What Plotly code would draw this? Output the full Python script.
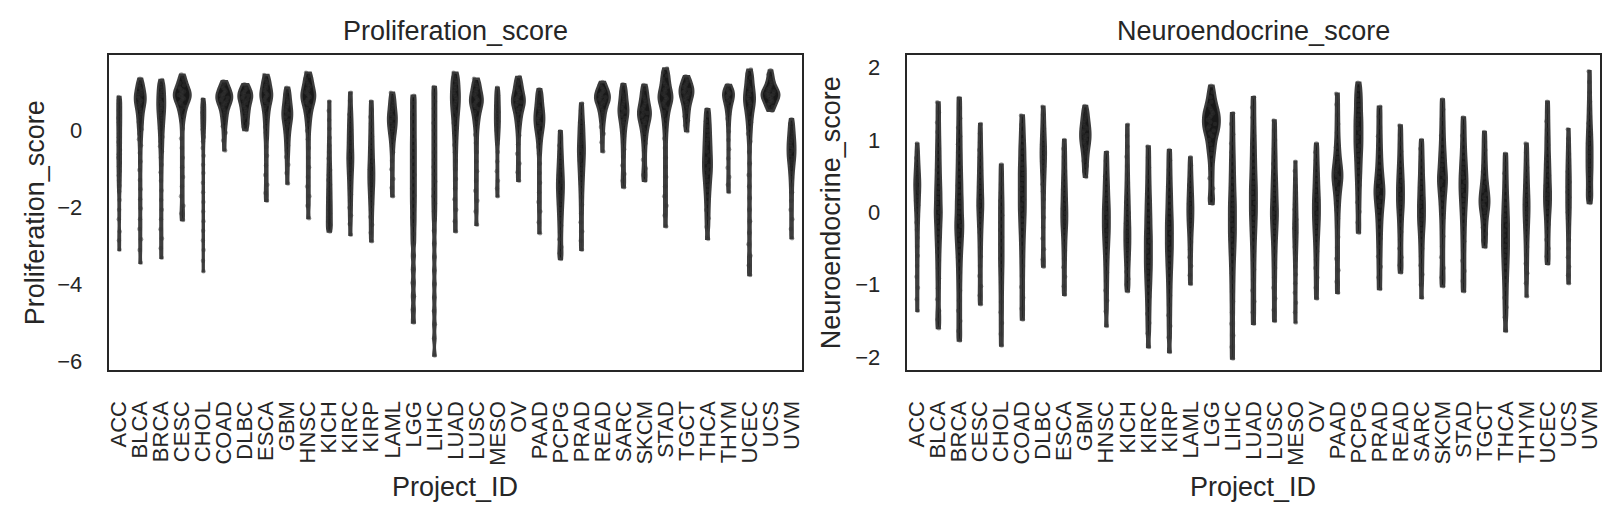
import plotly.graph_objects as go

projects = ["ACC", "BLCA", "BRCA", "CESC", "CHOL", "COAD", "DLBC", "ESCA", "GBM", "HNSC",
            "KICH", "KIRC", "KIRP", "LAML", "LGG", "LIHC", "LUAD", "LUSC", "MESO", "OV",
            "PAAD", "PCPG", "PRAD", "READ", "SARC", "SKCM", "STAD", "TGCT", "THCA", "THYM",
            "UCEC", "UCS", "UVM"]

prolif_values = [
    [0.88, 0.8, 0.71, 0.6, 0.52, 0.41, 0.33, 0.22, 0.14, 0.03, -0.08, -0.17, -0.29, -0.38, -0.5, -0.61, -0.7, -0.83, -0.92, -1.05, -1.16, -1.3, -1.43, -1.58, -1.8, -2.05, -2.3, -2.62, -2.85, -3.09],
    [1.35, 1.27, 1.2, 1.14, 1.08, 1.03, 0.98, 0.94, 0.9, 0.86, 0.82, 0.78, 0.74, 0.7, 0.65, 0.6, 0.54, 0.47, 0.4, 0.32, 0.23, 0.14, 0.04, -0.08, -0.22, -0.38, -0.58, -0.8, -1.02, -1.28, -1.52, -1.78, -2.02, -2.3, -2.55, -2.82, -3.1, -3.43],
    [1.32, 1.24, 1.17, 1.1, 1.03, 0.97, 0.91, 0.85, 0.79, 0.73, 0.68, 0.62, 0.56, 0.5, 0.44, 0.37, 0.3, 0.22, 0.14, 0.05, -0.05, -0.16, -0.28, -0.4, -0.54, -0.7, -0.88, -1.08, -1.3, -1.55, -1.8, -2.05, -2.3, -2.56, -2.8, -3.05, -3.3],
    [1.46, 1.38, 1.3, 1.24, 1.18, 1.13, 1.09, 1.05, 1.02, 0.99, 0.96, 0.93, 0.9, 0.87, 0.84, 0.81, 0.77, 0.73, 0.68, 0.62, 0.55, 0.47, 0.38, 0.25, 0.05, -0.2, -0.45, -0.7, -0.95, -1.2, -1.45, -1.7, -1.95, -2.15, -2.32],
    [0.82, 0.75, 0.68, 0.61, 0.54, 0.47, 0.4, 0.33, 0.26, 0.19, 0.11, 0.03, -0.06, -0.16, -0.28, -0.45, -0.65, -0.88, -1.1, -1.35, -1.6, -1.85, -2.1, -2.35, -2.6, -2.85, -3.1, -3.38, -3.65],
    [1.29, 1.22, 1.16, 1.11, 1.06, 1.02, 0.98, 0.95, 0.92, 0.89, 0.86, 0.83, 0.8, 0.77, 0.73, 0.69, 0.64, 0.58, 0.51, 0.43, 0.34, 0.24, 0.12, -0.05, -0.25, -0.51],
    [1.21, 1.15, 1.1, 1.05, 1.01, 0.97, 0.94, 0.91, 0.88, 0.85, 0.81, 0.77, 0.72, 0.67, 0.61, 0.55, 0.49, 0.42, 0.35, 0.27, 0.18, 0.1, 0.02],
    [1.45, 1.37, 1.3, 1.23, 1.17, 1.11, 1.06, 1.01, 0.97, 0.93, 0.89, 0.85, 0.8, 0.75, 0.69, 0.62, 0.54, 0.45, 0.35, 0.23, 0.1, -0.05, -0.2, -0.42, -0.65, -0.9, -1.15, -1.4, -1.62, -1.82],
    [1.12, 1.03, 0.94, 0.86, 0.78, 0.71, 0.65, 0.59, 0.53, 0.48, 0.43, 0.38, 0.33, 0.27, 0.21, 0.14, 0.06, -0.03, -0.13, -0.25, -0.38, -0.52, -0.68, -0.88, -1.1, -1.37],
    [1.51, 1.43, 1.35, 1.28, 1.21, 1.15, 1.1, 1.05, 1.0, 0.96, 0.92, 0.88, 0.84, 0.8, 0.75, 0.7, 0.64, 0.57, 0.49, 0.4, 0.29, 0.16, 0.0, -0.22, -0.45, -0.7, -0.95, -1.2, -1.45, -1.7, -1.95, -2.27],
    [0.76, 0.52, 0.28, 0.05, -0.18, -0.38, -0.55, -0.72, -0.88, -1.02, -1.15, -1.28, -1.4, -1.52, -1.63, -1.74, -1.85, -1.95, -2.05, -2.15, -2.25, -2.35, -2.45, -2.54, -2.62],
    [0.99, 0.78, 0.58, 0.42, 0.28, 0.15, 0.03, -0.09, -0.2, -0.31, -0.42, -0.52, -0.62, -0.71, -0.8, -0.9, -1.0, -1.11, -1.23, -1.36, -1.5, -1.65, -1.82, -2.0, -2.2, -2.42, -2.7],
    [0.76, 0.55, 0.36, 0.18, 0.02, -0.14, -0.28, -0.42, -0.55, -0.67, -0.79, -0.9, -1.0, -1.1, -1.2, -1.3, -1.4, -1.51, -1.63, -1.76, -1.9, -2.06, -2.24, -2.44, -2.65, -2.87],
    [0.99, 0.88, 0.78, 0.69, 0.61, 0.53, 0.46, 0.4, 0.34, 0.28, 0.22, 0.16, 0.09, 0.02, -0.06, -0.15, -0.26, -0.4, -0.56, -0.78, -1.0, -1.25, -1.48, -1.7],
    [0.91, 0.72, 0.52, 0.33, 0.14, -0.05, -0.24, -0.42, -0.6, -0.78, -0.96, -1.14, -1.32, -1.5, -1.68, -1.86, -2.05, -2.25, -2.45, -2.68, -2.92, -3.25, -3.6, -3.95, -4.3, -4.65, -4.98],
    [1.14, 0.96, 0.77, 0.58, 0.39, 0.2, 0.01, -0.18, -0.37, -0.56, -0.75, -0.94, -1.13, -1.32, -1.51, -1.7, -1.89, -2.09, -2.31, -2.6, -2.93, -3.28, -3.63, -3.98, -4.33, -4.68, -5.03, -5.4, -5.84],
    [1.51, 1.41, 1.32, 1.24, 1.16, 1.08, 1.01, 0.94, 0.87, 0.8, 0.73, 0.66, 0.58, 0.5, 0.41, 0.31, 0.2, 0.08, -0.05, -0.2, -0.37, -0.56, -0.78, -1.0, -1.25, -1.5, -1.78, -2.05, -2.35, -2.62],
    [1.35, 1.27, 1.19, 1.12, 1.05, 0.99, 0.94, 0.89, 0.84, 0.8, 0.76, 0.72, 0.67, 0.62, 0.56, 0.49, 0.41, 0.32, 0.21, 0.08, -0.1, -0.32, -0.55, -0.8, -1.05, -1.3, -1.56, -1.82, -2.1, -2.44],
    [1.12, 1.02, 0.92, 0.83, 0.74, 0.65, 0.57, 0.49, 0.41, 0.33, 0.25, 0.17, 0.09, 0.0, -0.1, -0.21, -0.34, -0.55, -0.8, -1.05, -1.3, -1.5, -1.7],
    [1.4, 1.31, 1.23, 1.15, 1.08, 1.02, 0.96, 0.91, 0.86, 0.82, 0.78, 0.74, 0.7, 0.65, 0.6, 0.54, 0.47, 0.39, 0.3, 0.19, 0.06, -0.12, -0.35, -0.6, -0.85, -1.08, -1.3],
    [1.08, 0.97, 0.87, 0.78, 0.69, 0.61, 0.54, 0.47, 0.41, 0.35, 0.29, 0.23, 0.17, 0.1, 0.03, -0.05, -0.15, -0.27, -0.42, -0.6, -0.85, -1.1, -1.35, -1.6, -1.85, -2.1, -2.38, -2.66],
    [-0.01, -0.2, -0.38, -0.54, -0.68, -0.81, -0.93, -1.04, -1.14, -1.24, -1.33, -1.42, -1.51, -1.6, -1.7, -1.8, -1.91, -2.03, -2.16, -2.3, -2.46, -2.63, -2.82, -3.02, -3.18, -3.33],
    [0.71, 0.52, 0.36, 0.22, 0.1, -0.01, -0.12, -0.22, -0.32, -0.41, -0.5, -0.59, -0.68, -0.78, -0.88, -0.99, -1.11, -1.24, -1.38, -1.54, -1.72, -1.92, -2.14, -2.38, -2.62, -2.86, -3.09],
    [1.27, 1.2, 1.14, 1.09, 1.04, 1.0, 0.96, 0.93, 0.9, 0.87, 0.84, 0.81, 0.78, 0.74, 0.7, 0.65, 0.59, 0.52, 0.44, 0.35, 0.25, 0.1, -0.08, -0.3, -0.54],
    [1.21, 1.11, 1.02, 0.94, 0.86, 0.79, 0.72, 0.66, 0.6, 0.55, 0.5, 0.45, 0.39, 0.33, 0.26, 0.18, 0.09, -0.02, -0.15, -0.3, -0.48, -0.68, -0.9, -1.12, -1.3, -1.47],
    [1.19, 1.08, 0.98, 0.89, 0.81, 0.74, 0.67, 0.61, 0.56, 0.51, 0.46, 0.42, 0.37, 0.32, 0.26, 0.2, 0.13, 0.04, -0.06, -0.18, -0.33, -0.52, -0.75, -0.98, -1.15, -1.3],
    [1.62, 1.52, 1.43, 1.35, 1.27, 1.2, 1.13, 1.07, 1.02, 0.97, 0.92, 0.88, 0.84, 0.8, 0.75, 0.7, 0.64, 0.57, 0.49, 0.4, 0.29, 0.16, 0.0, -0.2, -0.45, -0.7, -0.95, -1.2, -1.45, -1.7, -1.95, -2.2, -2.49],
    [1.42, 1.35, 1.29, 1.23, 1.18, 1.14, 1.1, 1.06, 1.03, 1.0, 0.96, 0.92, 0.88, 0.83, 0.78, 0.72, 0.65, 0.57, 0.48, 0.38, 0.27, 0.14, -0.01],
    [0.56, 0.4, 0.25, 0.12, 0.0, -0.12, -0.23, -0.34, -0.44, -0.54, -0.64, -0.73, -0.82, -0.91, -1.0, -1.09, -1.19, -1.3, -1.42, -1.55, -1.7, -1.87, -2.06, -2.27, -2.5, -2.81],
    [1.19, 1.13, 1.08, 1.04, 1.0, 0.97, 0.94, 0.91, 0.87, 0.83, 0.79, 0.74, 0.68, 0.61, 0.53, 0.43, 0.31, 0.16, -0.02, -0.24, -0.48, -0.72, -0.96, -1.2, -1.4, -1.59],
    [1.59, 1.48, 1.38, 1.29, 1.2, 1.12, 1.05, 0.98, 0.92, 0.86, 0.8, 0.74, 0.68, 0.61, 0.53, 0.44, 0.34, 0.22, 0.08, -0.08, -0.28, -0.55, -0.85, -1.15, -1.45, -1.75, -2.05, -2.35, -2.65, -2.95, -3.25, -3.5, -3.75],
    [1.57, 1.47, 1.38, 1.3, 1.23, 1.17, 1.12, 1.08, 1.05, 1.02, 0.99, 0.97, 0.95, 0.93, 0.91, 0.89, 0.86, 0.83, 0.8, 0.76, 0.72, 0.67, 0.62, 0.57, 0.52],
    [0.3, 0.18, 0.07, -0.03, -0.12, -0.2, -0.28, -0.35, -0.42, -0.49, -0.56, -0.63, -0.7, -0.78, -0.87, -0.97, -1.09, -1.23, -1.4, -1.6, -1.82, -2.05, -2.3, -2.55, -2.79],
]

neuro_values = [
    [0.95, 0.84, 0.75, 0.67, 0.6, 0.54, 0.48, 0.43, 0.38, 0.33, 0.28, 0.22, 0.16, 0.1, 0.03, -0.05, -0.14, -0.24, -0.35, -0.47, -0.6, -0.74, -0.89, -1.04, -1.2, -1.36],
    [1.52, 1.38, 1.24, 1.11, 0.99, 0.88, 0.78, 0.68, 0.59, 0.5, 0.42, 0.34, 0.27, 0.2, 0.13, 0.06, 0.0, -0.06, -0.13, -0.2, -0.28, -0.36, -0.45, -0.55, -0.66, -0.78, -0.91, -1.05, -1.2, -1.36, -1.48, -1.6],
    [1.58, 1.44, 1.3, 1.17, 1.05, 0.94, 0.83, 0.73, 0.63, 0.54, 0.45, 0.37, 0.29, 0.21, 0.14, 0.07, 0.0, -0.07, -0.13, -0.19, -0.25, -0.31, -0.38, -0.45, -0.53, -0.62, -0.72, -0.83, -0.95, -1.08, -1.22, -1.36, -1.5, -1.64, -1.77],
    [1.22, 1.09, 0.97, 0.86, 0.76, 0.67, 0.58, 0.5, 0.42, 0.35, 0.28, 0.21, 0.15, 0.09, 0.03, -0.04, -0.11, -0.19, -0.28, -0.38, -0.49, -0.61, -0.74, -0.88, -1.02, -1.15, -1.27],
    [0.66, 0.52, 0.39, 0.27, 0.16, 0.06, -0.04, -0.14, -0.24, -0.34, -0.44, -0.54, -0.64, -0.74, -0.85, -0.97, -1.1, -1.24, -1.38, -1.53, -1.68, -1.84],
    [1.34, 1.21, 1.1, 1.0, 0.91, 0.83, 0.75, 0.67, 0.6, 0.53, 0.46, 0.39, 0.32, 0.25, 0.18, 0.11, 0.04, -0.03, -0.11, -0.19, -0.28, -0.38, -0.49, -0.61, -0.74, -0.88, -1.03, -1.18, -1.33, -1.48],
    [1.46, 1.35, 1.25, 1.16, 1.08, 1.01, 0.94, 0.88, 0.82, 0.76, 0.7, 0.63, 0.56, 0.48, 0.39, 0.29, 0.18, 0.06, -0.07, -0.21, -0.36, -0.51, -0.65, -0.75],
    [1.0, 0.88, 0.77, 0.67, 0.57, 0.48, 0.4, 0.32, 0.25, 0.18, 0.11, 0.05, -0.01, -0.07, -0.13, -0.19, -0.26, -0.34, -0.43, -0.53, -0.64, -0.76, -0.89, -1.02, -1.14],
    [1.47, 1.41, 1.36, 1.31, 1.27, 1.23, 1.19, 1.16, 1.13, 1.1, 1.07, 1.04, 1.01, 0.98, 0.95, 0.91, 0.87, 0.82, 0.77, 0.71, 0.64, 0.57, 0.49],
    [0.83, 0.71, 0.6, 0.5, 0.41, 0.33, 0.25, 0.18, 0.11, 0.05, -0.01, -0.07, -0.13, -0.19, -0.25, -0.31, -0.38, -0.45, -0.53, -0.62, -0.72, -0.83, -0.95, -1.08, -1.22, -1.37, -1.57],
    [1.21, 1.06, 0.91, 0.77, 0.64, 0.52, 0.41, 0.31, 0.22, 0.14, 0.06, -0.01, -0.08, -0.15, -0.21, -0.27, -0.33, -0.39, -0.45, -0.51, -0.58, -0.65, -0.73, -0.82, -0.92, -1.0, -1.09],
    [0.91, 0.76, 0.62, 0.49, 0.37, 0.26, 0.16, 0.07, -0.02, -0.1, -0.18, -0.26, -0.33, -0.4, -0.47, -0.54, -0.61, -0.68, -0.75, -0.82, -0.9, -0.98, -1.07, -1.17, -1.28, -1.4, -1.53, -1.67, -1.86],
    [0.86, 0.72, 0.59, 0.47, 0.36, 0.26, 0.17, 0.08, 0.0, -0.08, -0.15, -0.22, -0.29, -0.36, -0.43, -0.5, -0.57, -0.65, -0.73, -0.82, -0.92, -1.03, -1.15, -1.28, -1.42, -1.57, -1.73, -1.93],
    [0.76, 0.65, 0.55, 0.46, 0.38, 0.31, 0.24, 0.18, 0.12, 0.06, 0.01, -0.05, -0.11, -0.17, -0.24, -0.32, -0.41, -0.51, -0.62, -0.74, -0.87, -0.99],
    [1.75, 1.66, 1.59, 1.53, 1.48, 1.44, 1.4, 1.37, 1.34, 1.31, 1.28, 1.25, 1.22, 1.19, 1.16, 1.13, 1.09, 1.05, 1.0, 0.94, 0.88, 0.81, 0.72, 0.6, 0.47, 0.33, 0.2, 0.12],
    [1.37, 1.22, 1.08, 0.95, 0.83, 0.72, 0.62, 0.52, 0.43, 0.34, 0.26, 0.18, 0.11, 0.04, -0.03, -0.1, -0.17, -0.24, -0.31, -0.38, -0.46, -0.54, -0.63, -0.73, -0.84, -0.96, -1.09, -1.23, -1.38, -1.54, -1.7, -1.86, -2.02],
    [1.59, 1.45, 1.31, 1.18, 1.06, 0.95, 0.85, 0.75, 0.66, 0.57, 0.49, 0.41, 0.34, 0.27, 0.2, 0.13, 0.06, -0.01, -0.08, -0.16, -0.24, -0.33, -0.43, -0.54, -0.66, -0.79, -0.93, -1.08, -1.23, -1.38, -1.54],
    [1.27, 1.13, 1.0, 0.88, 0.77, 0.67, 0.57, 0.48, 0.4, 0.32, 0.25, 0.18, 0.11, 0.05, -0.01, -0.07, -0.13, -0.2, -0.27, -0.35, -0.44, -0.54, -0.65, -0.77, -0.9, -1.04, -1.19, -1.35, -1.5],
    [0.7, 0.57, 0.46, 0.36, 0.27, 0.19, 0.11, 0.04, -0.03, -0.1, -0.16, -0.22, -0.28, -0.34, -0.41, -0.48, -0.56, -0.65, -0.75, -0.86, -0.98, -1.11, -1.25, -1.38, -1.52],
    [0.95, 0.83, 0.72, 0.62, 0.53, 0.45, 0.37, 0.3, 0.23, 0.17, 0.11, 0.05, -0.01, -0.07, -0.13, -0.2, -0.27, -0.35, -0.44, -0.54, -0.65, -0.77, -0.9, -1.04, -1.19],
    [1.64, 1.49, 1.35, 1.22, 1.1, 0.99, 0.9, 0.82, 0.75, 0.69, 0.64, 0.59, 0.55, 0.51, 0.47, 0.43, 0.38, 0.33, 0.27, 0.2, 0.12, 0.03, -0.08, -0.2, -0.34, -0.49, -0.64, -0.8, -0.96, -1.11],
    [1.79, 1.7, 1.62, 1.55, 1.48, 1.41, 1.34, 1.28, 1.22, 1.16, 1.1, 1.04, 0.98, 0.92, 0.86, 0.79, 0.72, 0.64, 0.56, 0.47, 0.37, 0.26, 0.14, 0.01, -0.14, -0.28],
    [1.46, 1.32, 1.18, 1.05, 0.93, 0.82, 0.72, 0.63, 0.55, 0.48, 0.42, 0.36, 0.31, 0.26, 0.21, 0.15, 0.09, 0.02, -0.06, -0.15, -0.25, -0.36, -0.48, -0.61, -0.75, -0.9, -1.06],
    [1.2, 1.07, 0.95, 0.84, 0.74, 0.65, 0.57, 0.5, 0.43, 0.37, 0.31, 0.25, 0.19, 0.13, 0.07, 0.0, -0.08, -0.17, -0.27, -0.38, -0.5, -0.62, -0.73, -0.83],
    [1.0, 0.88, 0.77, 0.67, 0.58, 0.49, 0.41, 0.34, 0.27, 0.2, 0.14, 0.08, 0.02, -0.04, -0.1, -0.16, -0.23, -0.31, -0.4, -0.5, -0.61, -0.73, -0.86, -1.0, -1.18],
    [1.56, 1.42, 1.29, 1.17, 1.06, 0.96, 0.87, 0.79, 0.72, 0.65, 0.59, 0.53, 0.48, 0.43, 0.38, 0.32, 0.26, 0.19, 0.11, 0.02, -0.08, -0.2, -0.33, -0.47, -0.62, -0.77, -0.9, -1.02],
    [1.31, 1.18, 1.06, 0.95, 0.85, 0.76, 0.68, 0.61, 0.54, 0.48, 0.42, 0.36, 0.3, 0.24, 0.17, 0.1, 0.02, -0.07, -0.17, -0.28, -0.4, -0.53, -0.67, -0.81, -0.95, -1.09],
    [1.11, 0.98, 0.86, 0.75, 0.65, 0.56, 0.48, 0.41, 0.35, 0.3, 0.25, 0.21, 0.17, 0.13, 0.09, 0.05, 0.0, -0.06, -0.13, -0.21, -0.3, -0.39, -0.48],
    [0.81, 0.67, 0.54, 0.42, 0.31, 0.21, 0.12, 0.04, -0.04, -0.11, -0.18, -0.25, -0.32, -0.39, -0.46, -0.53, -0.6, -0.68, -0.76, -0.85, -0.95, -1.06, -1.18, -1.31, -1.45, -1.64],
    [0.95, 0.83, 0.72, 0.62, 0.53, 0.45, 0.37, 0.3, 0.23, 0.17, 0.11, 0.05, -0.01, -0.07, -0.14, -0.21, -0.29, -0.38, -0.48, -0.59, -0.71, -0.84, -0.98, -1.16],
    [1.53, 1.39, 1.26, 1.14, 1.03, 0.93, 0.83, 0.74, 0.66, 0.58, 0.51, 0.44, 0.37, 0.31, 0.25, 0.19, 0.13, 0.07, 0.0, -0.08, -0.17, -0.27, -0.38, -0.5, -0.61, -0.71],
    [1.15, 1.02, 0.91, 0.81, 0.72, 0.64, 0.56, 0.49, 0.42, 0.35, 0.28, 0.21, 0.14, 0.07, 0.0, -0.08, -0.17, -0.27, -0.38, -0.5, -0.62, -0.75, -0.87, -0.98],
    [1.95, 1.8, 1.66, 1.53, 1.42, 1.32, 1.23, 1.15, 1.08, 1.01, 0.95, 0.89, 0.83, 0.77, 0.71, 0.65, 0.59, 0.53, 0.46, 0.39, 0.32, 0.25, 0.19, 0.13],
]

prolif_ticks = [-6, -4, -2, 0]
neuro_ticks = [-2, -1, 0, 1, 2]

# style: widest visible width of each violin, in pixels
prolif_width_px = [6, 13, 10, 19, 6, 18, 16, 14, 12, 16, 7, 8, 8, 11, 7, 6, 11, 15, 7, 15,
                   12, 9, 9, 17, 12, 15, 16, 16, 11, 13, 13, 20, 10]
neuro_width_px = [8, 9, 10, 8, 6.5, 9, 7.5, 8, 12.5, 9, 8, 9, 9, 8, 19, 9, 9, 9, 6.5, 9,
                  12, 10, 12, 9, 9, 11, 10, 12, 9, 8, 9, 6.5, 8]

FONT = "Liberation Sans, Arial, sans-serif"
TXT = "#262626"
W, H = 1623, 523
L1, R1, L2, R2 = 107, 802, 907, 1602
TOP, BOT = 55, 373
LINE_W = 2.4


def add_violins(fig, values, widths_px, xa, ya, bw, span_px):
    cat_px = span_px / len(projects)
    for p, vals, wpx in zip(projects, values, widths_px):
        fig.add_trace(go.Violin(
            x=[p] * len(vals), y=vals, xaxis=xa, yaxis=ya,
            fillcolor="#181818", line=dict(color="#3e3e3e", width=LINE_W),
            points="all", jitter=0.5, pointpos=0,
            marker=dict(size=4.5, color="rgba(50,50,50,0.45)", line=dict(width=0)),
            spanmode="hard", bandwidth=bw,
            width=max(wpx - LINE_W, 1.0) / cat_px,
            box_visible=False, meanline_visible=False,
            hoverinfo="skip", showlegend=False,
        ))


fig = go.Figure()
add_violins(fig, prolif_values, prolif_width_px, "x", "y", 0.13, R1 - L1)
add_violins(fig, neuro_values, neuro_width_px, "x2", "y2", 0.08, R2 - L2)

ydom = [1 - BOT / H, 1 - TOP / H]


def minus(v):
    return str(v).replace("-", "\u2212")


xcommon = dict(
    type="category", categoryorder="array", categoryarray=projects,
    tickmode="array", tickvals=projects, ticktext=projects,
    range=[-0.5, len(projects) - 0.5], tickangle=-90,
    tickfont=dict(family=FONT, size=22, color=TXT),
    showline=True, mirror=True, linecolor=TXT, linewidth=2.2,
    showgrid=False, zeroline=False, ticks="", ticklabelstandoff=20,
)
ycommon = dict(
    tickfont=dict(family=FONT, size=22, color=TXT),
    showline=True, mirror=True, linecolor=TXT, linewidth=2.2,
    showgrid=False, zeroline=False, ticks="", ticklabelstandoff=20,
)

fig.update_layout(
    width=W, height=H, margin=dict(l=0, r=0, t=0, b=0),
    paper_bgcolor="white", plot_bgcolor="white", violinmode="overlay",
    xaxis=dict(domain=[L1 / W, R1 / W], anchor="y", **xcommon),
    xaxis2=dict(domain=[L2 / W, R2 / W], anchor="y2", **xcommon),
    yaxis=dict(domain=ydom, anchor="x", range=[-6.22, 1.98],
               tickvals=prolif_ticks, ticktext=[minus(v) for v in prolif_ticks], **ycommon),
    yaxis2=dict(domain=ydom, anchor="x2", range=[-2.18, 2.18],
                tickvals=neuro_ticks, ticktext=[minus(v) for v in neuro_ticks], **ycommon),
)

ann_font = dict(family=FONT, size=27, color=TXT)
annotations = [
    dict(text="Proliferation_score", x=(L1 + R1) / 2 / W, y=1 - 31 / H),
    dict(text="Neuroendocrine_score", x=(L2 + R2) / 2 / W, y=1 - 31 / H),
    dict(text="Project_ID", x=(L1 + R1) / 2 / W, y=1 - 491 / H),
    dict(text="Project_ID", x=(L2 + R2) / 2 / W, y=1 - 491 / H),
    dict(text="Proliferation_score", x=33 / W, y=1 - 214 / H, textangle=-90),
    dict(text="Neuroendocrine_score", x=831 / W, y=1 - 214 / H, textangle=-90),
]
for a in annotations:
    fig.add_annotation(xref="paper", yref="paper", xanchor="center", yanchor="middle",
                       showarrow=False, font=ann_font, **a)

fig.write_html("out.html")
